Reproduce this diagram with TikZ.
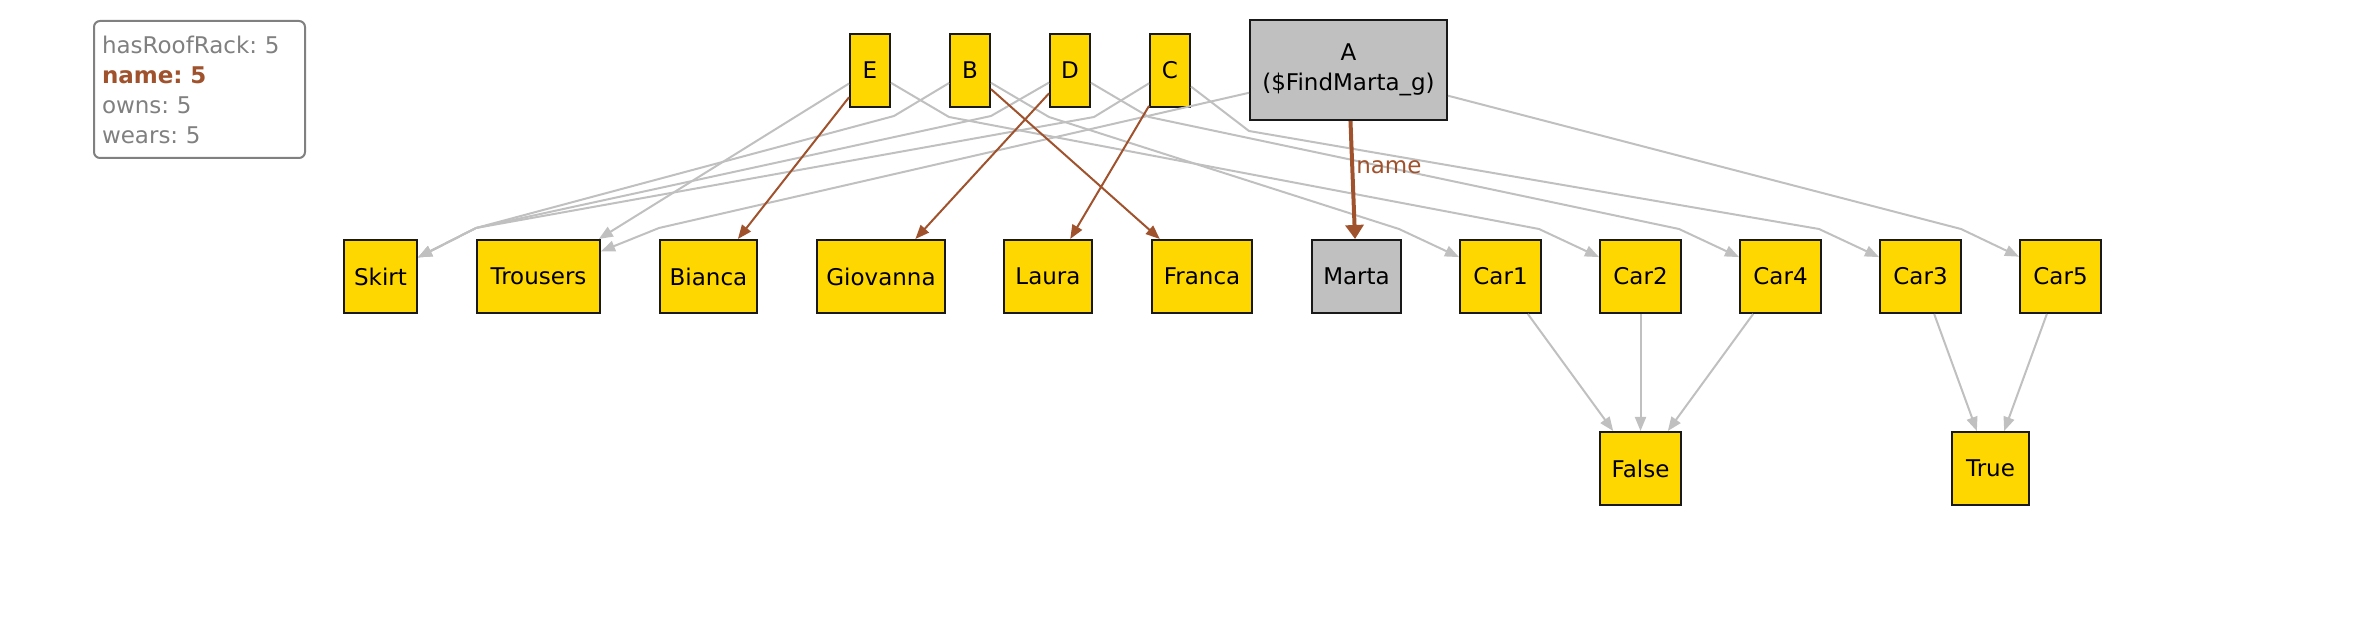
\documentclass[tikz,border=0pt]{standalone}
\usepackage{fontspec}
\setmainfont{DejaVu Sans}
\usepackage{xcolor}
\usepackage{tikz}
\usetikzlibrary{arrows.meta,calc}
\definecolor{gold}{HTML}{FFD700}
\definecolor{silverfill}{HTML}{C0C0C0}
\definecolor{edgegray}{HTML}{C0C0C0}
\definecolor{sienna}{HTML}{A0522D}
\definecolor{keygray}{HTML}{808080}
\frenchspacing

\begin{document}
\begin{tikzpicture}[
    x=0.5pt, y=-0.5pt,
    obj/.style={rectangle, draw=black!90, line width=1pt, fill=gold, inner sep=0pt,
                minimum height=36.5pt, font=\fontsize{11.5}{15}\selectfont},
    var/.style={obj, fill=silverfill},
    rel/.style={draw=edgegray, line width=1pt, -{Triangle[length=7pt,width=5.5pt]}},
    namerel/.style={draw=sienna, line width=1pt, -{Triangle[length=7pt,width=5.5pt]}},
    namethick/.style={draw=sienna, line width=2pt, -{Triangle[length=7pt,width=9pt]}},
    namelabel/.style={font=\fontsize{11.5}{14}\selectfont, text=sienna, inner sep=1pt},
    key/.style={rectangle, draw=keygray, line width=1pt, rounded corners=3pt, text=keygray,
                align=left, text width=97.5pt, inner xsep=4pt, minimum height=68.5pt,
                font=\fontsize{11.5}{15}\selectfont}
]
\useasboundingbox (0,0) rectangle (2372,630);

% --- Legend ---
\node[key, anchor=north west] (legend) at (93,20)
  {hasRoofRack: 5\\\textcolor{sienna}{\textbf{name: 5}}\\owns: 5\\wears: 5};

% --- Top row: people and the query variable ---
\node[obj, minimum width=20pt] (E) at (870,70.5)  {E};
\node[obj, minimum width=20pt] (B) at (970,70.5)  {B};
\node[obj, minimum width=20pt] (D) at (1070,70.5) {D};
\node[obj, minimum width=20pt] (C) at (1170,70.5) {C};
\node[var, minimum width=98.5pt, minimum height=50pt, align=center] (A) at (1348.5,70)
  {A\\(\$FindMarta\_g)};

% --- Middle row: clothes, names, cars ---
\node[obj, minimum width=36.5pt] (Skirt)    at (380.5,276.5)  {Skirt};
\node[obj, minimum width=61.5pt] (Trousers) at (538.5,276.5)  {Trousers};
\node[obj, minimum width=48.5pt] (Bianca)   at (708.5,276.5)  {Bianca};
\node[obj, minimum width=64pt]   (Giovanna) at (881,276.5)    {Giovanna};
\node[obj, minimum width=44pt]   (Laura)    at (1048,276.5)   {Laura};
\node[obj, minimum width=50pt]   (Franca)   at (1202,276.5)   {Franca};
\node[var, minimum width=44.5pt] (Marta)    at (1356.5,276.5) {Marta};
\node[obj, minimum width=40.5pt] (Car1)     at (1500.5,276.5) {Car1};
\node[obj, minimum width=40.5pt] (Car2)     at (1640.5,276.5) {Car2};
\node[obj, minimum width=40.5pt] (Car4)     at (1780.5,276.5) {Car4};
\node[obj, minimum width=40.5pt] (Car3)     at (1920.5,276.5) {Car3};
\node[obj, minimum width=40.5pt] (Car5)     at (2060.5,276.5) {Car5};

% --- Bottom row: truth values ---
\node[obj, minimum width=40.5pt] (False) at (1640.5,468.5) {False};
\node[obj, minimum width=38.5pt] (True)  at (1990.5,468.5) {True};

% --- wears ---
\coordinate (skirtjoin) at ($(Trousers.north west)+(0,-11)$);
\draw[rel] (E) -- (Trousers);
\draw[rel] (B) -- ($(E.south east)+(3,8)$) -- (skirtjoin) -- (Skirt);
\draw[rel] (D) -- ($(B.south east)+(0,8)$) -- (skirtjoin) -- (Skirt);
\draw[rel] (C) -- ($(D.south east)+(3,9)$) -- (skirtjoin) -- (Skirt);
\draw[rel] (A) -- ($(Bianca.north west)+(0,-11)$) -- (Trousers);

% --- owns ---
\draw[rel] (E) -- ($(B.south west)+(0,9)$) -- ($(Car2.north west)+(-60,-10)$) -- (Car2);
\draw[rel] (B) -- ($(D.south west)+(0,9)$) -- ($(Car1.north west)+(-60,-10)$) -- (Car1);
\draw[rel] (D) -- ($(C.south west)+(0,9)$) -- ($(Car4.north west)+(-60,-10)$) -- (Car4);
\draw[rel] (C) -- ($(A.south west)+(0,10)$) -- ($(Car3.north west)+(-60,-10)$) -- (Car3);
\draw[rel] (A) -- ($(Car5.north west)+(-58,-10)$) -- (Car5);

% --- name ---
\draw[namerel] (E) -- (Bianca);
\draw[namerel] (B) -- (Franca);
\draw[namerel] (D) -- (Giovanna);
\draw[namerel] (C) -- (Laura);
\draw[namethick] (A) -- node[namelabel, right, pos=0.39] {name} (Marta);

% --- hasRoofRack ---
\draw[rel] (Car1) -- (False);
\draw[rel] (Car2) -- (False);
\draw[rel] (Car4) -- (False);
\draw[rel] (Car3) -- (True);
\draw[rel] (Car5) -- (True);
\end{tikzpicture}
\end{document}
